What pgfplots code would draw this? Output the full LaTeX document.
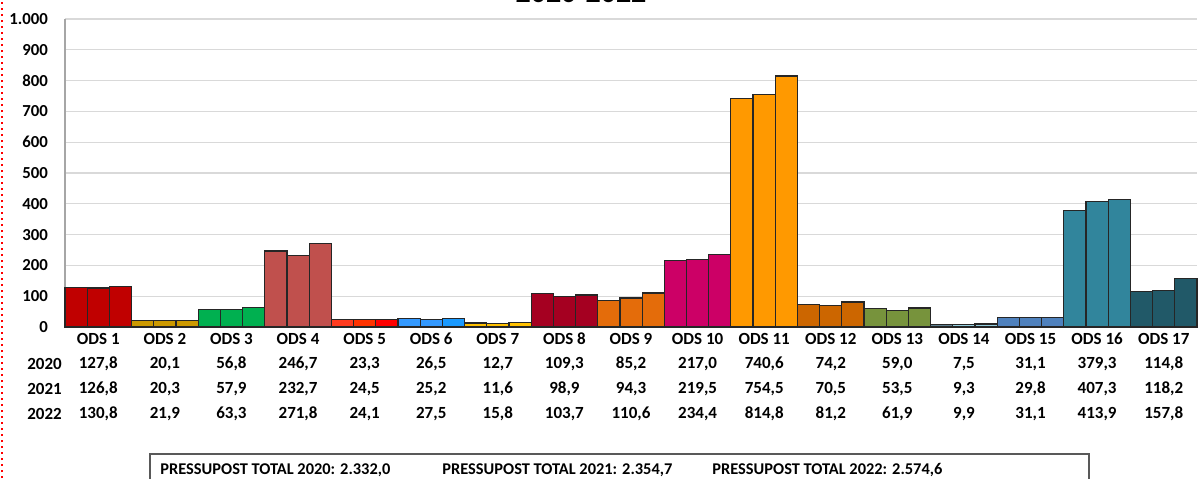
\documentclass[border=0pt]{standalone}
\usepackage{pgfplots}
\pgfplotsset{compat=1.18}
\usepackage{fontspec}
\setmainfont{Carlito}
\definecolor{c1}{HTML}{C00000}
\definecolor{c2}{HTML}{CC9900}
\definecolor{c3}{HTML}{00B050}
\definecolor{c4}{HTML}{C0504D}
\definecolor{c5a}{HTML}{FF3B1F}
\definecolor{c5b}{HTML}{FF3300}
\definecolor{c5c}{HTML}{FF0000}
\definecolor{c6a}{HTML}{3399FF}
\definecolor{c6c}{HTML}{1A9AFF}
\definecolor{c7}{HTML}{FFC000}
\definecolor{c8}{HTML}{A50021}
\definecolor{c9}{HTML}{E46C0A}
\definecolor{c10}{HTML}{CC0066}
\definecolor{c11}{HTML}{FF9900}
\definecolor{c12}{HTML}{CC6600}
\definecolor{c13}{HTML}{77933C}
\definecolor{c14a}{HTML}{5E7F8F}
\definecolor{c14b}{HTML}{93CDDD}
\definecolor{c15}{HTML}{4F81BD}
\definecolor{c16}{HTML}{31859C}
\definecolor{c17}{HTML}{215968}
\pgfplotsset{bb/.style={ybar, bar width=0.3333, bar shift=0pt, draw=black!85, line width=0.6pt, fill=#1}}
\begin{document}
\begin{tikzpicture}[x=1pt,y=1pt]
\useasboundingbox (0,0) rectangle (599,239);
\draw[red, dotted, line width=1pt] (1,0) -- (1,239);
\node[font=\fontsize{15}{18}\selectfont\bfseries, anchor=base, inner sep=0pt] at (290.5,237.5) {2020-2022};
\begin{axis}[
  at={(32.5pt,75.5pt)}, anchor=south west,
  scale only axis, width=566pt, height=154pt,
  xmin=0.5, xmax=17.5, ymin=0, ymax=1000,
  ytick={0,100,...,1000},
  yticklabels={0,100,200,300,400,500,600,700,800,900,1.000},
  xtick=\empty,
  ymajorgrids, grid style={draw=gray!30, line width=0.6pt},
  axis x line*=bottom, axis y line*=left,
  axis line style={draw=gray!70, line width=0.6pt, -},
  major tick length=0pt,
  tick label style={font=\fontsize{8.4}{9}\selectfont\bfseries},
  /pgf/number format/assume math mode=true,
  yticklabel style={xshift=-5pt},
  clip=false,
]
\addplot[bb=c1] coordinates {(0.6667,127.8) (1,126.8) (1.3333,130.8)};
\addplot[bb=c2] coordinates {(1.6667,20.1) (2,20.3) (2.3333,21.9)};
\addplot[bb=c3] coordinates {(2.6667,56.8) (3,57.9) (3.3333,63.3)};
\addplot[bb=c4] coordinates {(3.6667,246.7) (4,232.7) (4.3333,271.8)};
\addplot[bb=c5a] coordinates {(4.6667,23.3)};
\addplot[bb=c5b] coordinates {(5,24.5)};
\addplot[bb=c5c] coordinates {(5.3333,24.1)};
\addplot[bb=c6a] coordinates {(5.6667,26.5) (6,25.2)};
\addplot[bb=c6c] coordinates {(6.3333,27.5)};
\addplot[bb=c7] coordinates {(6.6667,12.7) (7,11.6) (7.3333,15.8)};
\addplot[bb=c8] coordinates {(7.6667,109.3) (8,98.9) (8.3333,103.7)};
\addplot[bb=c9] coordinates {(8.6667,85.2) (9,94.3) (9.3333,110.6)};
\addplot[bb=c10] coordinates {(9.6667,217.0) (10,219.5) (10.3333,234.4)};
\addplot[bb=c11] coordinates {(10.6667,740.6) (11,754.5) (11.3333,814.8)};
\addplot[bb=c12] coordinates {(11.6667,74.2) (12,70.5) (12.3333,81.2)};
\addplot[bb=c13] coordinates {(12.6667,59.0) (13,53.5) (13.3333,61.9)};
\addplot[bb=c14a] coordinates {(13.6667,7.5)};
\addplot[bb=c14b] coordinates {(14,9.3) (14.3333,9.9)};
\addplot[bb=c15] coordinates {(14.6667,31.1) (15,29.8) (15.3333,31.1)};
\addplot[bb=c16] coordinates {(15.6667,379.3) (16,407.3) (16.3333,413.9)};
\addplot[bb=c17] coordinates {(16.6667,114.8) (17,118.2) (17.3333,157.8)};
\end{axis}
\begin{scope}[every node/.style={font=\fontsize{8.5}{9}\selectfont\bfseries, inner sep=0pt}]
\foreach \i/\a/\b/\c in {1/{127,8}/{126,8}/{130,8}, 2/{20,1}/{20,3}/{21,9}, 3/{56,8}/{57,9}/{63,3},
  4/{246,7}/{232,7}/{271,8}, 5/{23,3}/{24,5}/{24,1}, 6/{26,5}/{25,2}/{27,5}, 7/{12,7}/{11,6}/{15,8},
  8/{109,3}/{98,9}/{103,7}, 9/{85,2}/{94,3}/{110,6}, 10/{217,0}/{219,5}/{234,4}, 11/{740,6}/{754,5}/{814,8},
  12/{74,2}/{70,5}/{81,2}, 13/{59,0}/{53,5}/{61,9}, 14/{7,5}/{9,3}/{9,9}, 15/{31,1}/{29,8}/{31,1},
  16/{379,3}/{407,3}/{413,9}, 17/{114,8}/{118,2}/{157,8}}{
  \pgfmathsetmacro\xx{32.5+(\i-0.5)*33.294}
  \node at (\xx,69.5) {ODS \i};
  \node at (\xx,57) {\a};
  \node at (\xx,44.5) {\b};
  \node at (\xx,32) {\c};
}
\node at (22.25,57) {2020};
\node at (22.25,44.5) {2021};
\node at (22.25,32) {2022};
\draw[gray!70!black, line width=0.6pt] (75,-5) rectangle (544.5,12);
\begin{scope}[every node/.style={font=\fontsize{8.2}{9}\selectfont\bfseries, inner sep=0pt}]
\node[anchor=west] at (80,4) {PRESSUPOST TOTAL 2020: 2.332,0};
\node[anchor=west] at (221,4) {PRESSUPOST TOTAL 2021: 2.354,7};
\node[anchor=west] at (356,4) {PRESSUPOST TOTAL 2022: 2.574,6};
\end{scope}
\end{scope}
\end{tikzpicture}
\end{document}
